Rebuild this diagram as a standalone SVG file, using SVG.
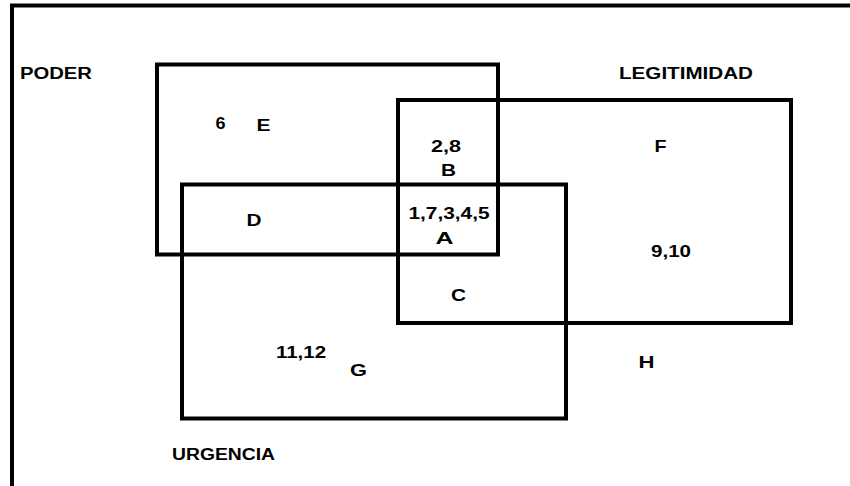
<svg xmlns="http://www.w3.org/2000/svg" width="850" height="486" viewBox="0 0 850 486">
  <style>
    .set { fill: none; stroke: #000; stroke-width: 4; }
    .frame { fill: none; stroke: #000; stroke-width: 4; }
    text { font-family: "Liberation Sans", Arial, sans-serif; font-weight: bold; fill: #000; }
    .title { font-size: 16px; }
    .num { font-size: 16px; }
    .zone { font-size: 17px; }
  </style>
  <rect width="850" height="486" fill="#fff"/>
  <!-- page frame: left and top edges only -->
  <rect class="frame" x="12" y="5.5" width="900" height="520"/>

  <!-- the three stakeholder attributes -->
  <g id="poder">
    <rect class="set" x="157" y="64.5" width="341" height="190"/>
    <text class="title" x="20" y="78.5" textLength="72" lengthAdjust="spacingAndGlyphs">PODER</text>
  </g>
  <g id="legitimidad">
    <rect class="set" x="398" y="100" width="393" height="223"/>
    <text class="title" x="619" y="78.5" textLength="134" lengthAdjust="spacingAndGlyphs">LEGITIMIDAD</text>
  </g>
  <g id="urgencia">
    <rect class="set" x="182" y="184.5" width="384" height="234"/>
    <text class="title" x="172" y="459.5" textLength="103" lengthAdjust="spacingAndGlyphs">URGENCIA</text>
  </g>

  <!-- zones and the stakeholders placed in them -->
  <g id="zona-e">
    <text class="num" x="215.5" y="128.5" textLength="10" lengthAdjust="spacingAndGlyphs">6</text>
    <text class="zone" x="256.5" y="131" textLength="14" lengthAdjust="spacingAndGlyphs">E</text>
  </g>
  <g id="zona-b">
    <text class="num" x="431" y="152" textLength="30" lengthAdjust="spacingAndGlyphs">2,8</text>
    <text class="zone" x="441" y="176" textLength="15" lengthAdjust="spacingAndGlyphs">B</text>
  </g>
  <g id="zona-a">
    <text class="num" x="408.5" y="218.5" textLength="81" lengthAdjust="spacingAndGlyphs">1,7,3,4,5</text>
    <text class="zone" x="435.5" y="243.5" textLength="18" lengthAdjust="spacingAndGlyphs">A</text>
  </g>
  <g id="zona-d">
    <text class="zone" x="246.5" y="226" textLength="15" lengthAdjust="spacingAndGlyphs">D</text>
  </g>
  <g id="zona-c">
    <text class="zone" x="451" y="301" textLength="15" lengthAdjust="spacingAndGlyphs">C</text>
  </g>
  <g id="zona-f">
    <text class="zone" x="654.5" y="151.7" textLength="12" lengthAdjust="spacingAndGlyphs">F</text>
    <text class="num" x="651" y="257" textLength="40" lengthAdjust="spacingAndGlyphs">9,10</text>
  </g>
  <g id="zona-g">
    <text class="num" x="276" y="358" textLength="50" lengthAdjust="spacingAndGlyphs">11,12</text>
    <text class="zone" x="350" y="376" textLength="17" lengthAdjust="spacingAndGlyphs">G</text>
  </g>
  <g id="zona-h">
    <text class="zone" x="638.5" y="368.3" textLength="16" lengthAdjust="spacingAndGlyphs">H</text>
  </g>
</svg>
